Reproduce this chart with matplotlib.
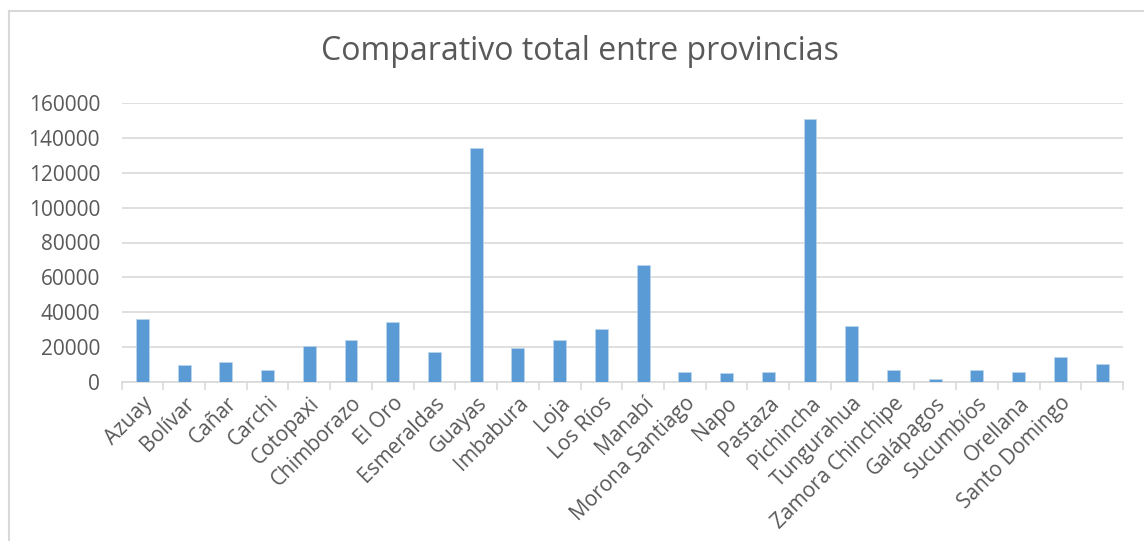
import matplotlib
matplotlib.use("Agg")
import matplotlib.pyplot as plt
import numpy as np

provincias = ["Azuay", "Bolívar", "Cañar", "Carchi", "Cotopaxi", "Chimborazo", "El Oro",
              "Esmeraldas", "Guayas", "Imbabura", "Loja", "Los Ríos", "Manabí",
              "Morona Santiago", "Napo", "Pastaza", "Pichincha", "Tungurahua",
              "Zamora Chinchipe", "Galápagos", "Sucumbíos", "Orellana", "Santo Domingo", ""]
totales = [36200, 9400, 11500, 6700, 20500, 24000, 34100,
           17100, 134200, 19200, 24000, 30100, 67100,
           5400, 4800, 5400, 150900, 32000,
           6700, 1400, 6700, 5400, 14400, 10200]
yticks = [0, 20000, 40000, 60000, 80000, 100000, 120000, 140000, 160000]

W, H = 1144, 541
fig = plt.figure(figsize=(W / 100, H / 100), dpi=100)
plt.rcParams['font.family'] = ['Open Sans', 'DejaVu Sans']

txt = "#595959"
grid = "#D9D9D9"

ax = fig.add_axes([121.5 / W, 1 - 381.7 / H, (1123 - 121.5) / W, (381.7 - 103.3) / H])
x = np.arange(len(provincias))
ax.bar(x, totales, width=0.31, color="#5B9BD5", edgecolor="#BDD7EE", linewidth=0.5, zorder=3)
ax.set_xlim(-0.5, len(provincias) - 0.5)
ax.set_ylim(0, 160000)
ax.set_yticks(yticks)
ax.set_yticklabels([str(v) for v in yticks], fontsize=15, color=txt)
ax.yaxis.grid(True, color=grid, linewidth=1.2, zorder=0)
ax.tick_params(axis='y', length=0, pad=15.5)

ax.set_xticks(x)
ax.set_xticklabels(provincias, rotation=45, ha='right', rotation_mode='anchor',
                   fontsize=15, color=txt)
ax.set_xticks(np.arange(-0.5, len(provincias)), minor=True)
ax.tick_params(axis='x', which='major', length=0, pad=8)
ax.tick_params(axis='x', which='minor', length=6, color=grid, width=1.2)

for s in ["top", "right", "left"]:
    ax.spines[s].set_visible(False)
ax.spines["bottom"].set_color(grid)
ax.spines["bottom"].set_linewidth(1.2)

fig.text(580 / W, 1 - 52 / H, "Comparativo total entre provincias", ha='center', va='center',
         fontsize=23, color=txt)

# chart border
fig.add_artist(plt.Line2D([9 / W, 9 / W], [0, 1 - 11 / H], transform=fig.transFigure,
                          color="#D9D9D9", linewidth=1.5))
fig.add_artist(plt.Line2D([9 / W, 1], [1 - 11 / H, 1 - 11 / H], transform=fig.transFigure,
                          color="#D9D9D9", linewidth=1.5))

fig.savefig("out.png", dpi=100, facecolor="white")
